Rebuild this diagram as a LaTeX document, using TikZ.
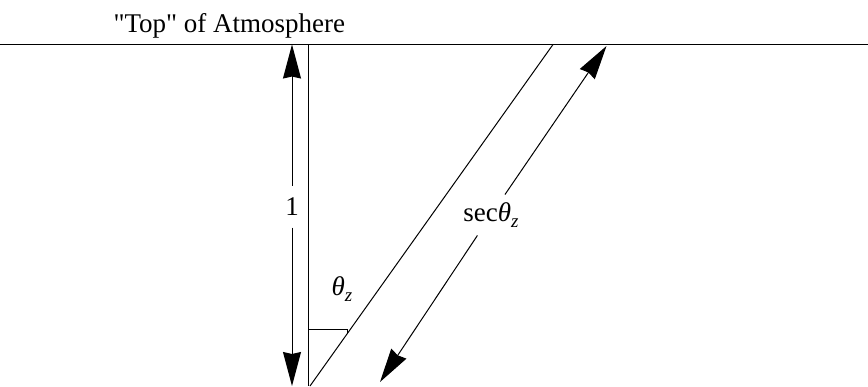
\documentclass[tikz,border=0pt]{standalone}
\usepackage{fontspec}
\setmainfont{Liberation Serif}
\newfontfamily\plainserif{Liberation Serif}
\usetikzlibrary{arrows.meta}
\begin{document}
\begin{tikzpicture}[x=1pt,y=-1pt,line width=1pt,
  tipped/.style={-{Stealth[length=34pt,width=18pt,inset=2pt]}},
  lbl/.style={font=\fontsize{27}{32}\selectfont,inner sep=0pt}]
\useasboundingbox (0,0) rectangle (868,386);
% top of atmosphere
\coordinate (hl) at (0,44.5);
\coordinate (hr) at (868,44.5);
\draw (hl) -- (hr);
\node[lbl,anchor=base west] (title) at (113,32) {\plainserif "Top" of Atmosphere};
% vertical and slant paths
\coordinate (vt) at (308.5,44.5);
\coordinate (vb) at (308.5,386);
\draw (vt) -- (vb);
\coordinate (sb) at (310,386);
\coordinate (st) at (553,44.5);
\draw (sb) -- (st);
% angle mark
\coordinate (r1) at (308.5,329);
\coordinate (r2) at (347,329);
\coordinate (r3) at (347,333.5);
\draw (r1) -- (r2) -- (r3);
\node[lbl] (theta) at (342,289) {\textit{θ}{\fontsize{19}{22}\selectfont\raisebox{-6pt}{\textit{z}}}};
% length 1 arrow
\node[lbl,circle,minimum size=41pt] (one) at (292,206.5) {1};
\coordinate (at) at (292,44.5);
\coordinate (ab) at (292,386);
\draw[tipped] (one) -- (at);
\draw[tipped] (one) -- (ab);
% sec arrow
\node[lbl,minimum height=40pt] (sec) at (491,215) {sec\textit{θ}{\fontsize{19}{22}\selectfont\raisebox{-6pt}{\textit{z}}}};
\coordinate (s1) at (606.5,46);
\coordinate (s2) at (380,382);
\draw[tipped] (sec) -- (s1);
\draw[tipped] (sec) -- (s2);
\end{tikzpicture}
\end{document}
